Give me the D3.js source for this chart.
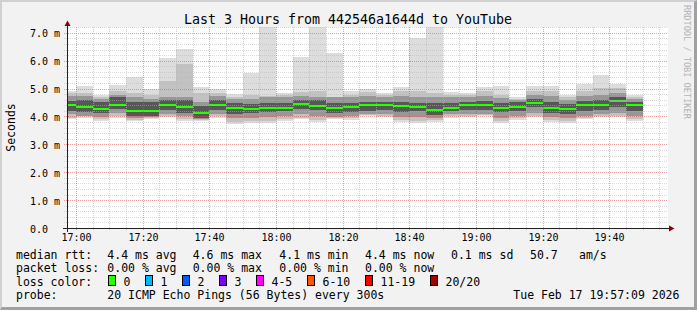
<!DOCTYPE html>
<meta charset="utf-8">
<style>

body {
  margin: 0;
  background: #f2f2f2;
}
text {
  font-family: "DejaVu Sans Mono", monospace;
  fill: #000;
}
.grid line {
  stroke-dasharray: 1,1;
  shape-rendering: crispEdges;
}
.smoke rect {
  shape-rendering: crispEdges;
}

</style>
<body>
<script src="https://cdn.jsdelivr.net/npm/d3@7/dist/d3.min.js"></script>
<script>
// end time of every 5 minute step (the first one is cut by the left edge)
var slots = ["17:00","17:05","17:10","17:15","17:20","17:25","17:30","17:35","17:40","17:45",
             "17:50","17:55","18:00","18:05","18:10","18:15","18:20","18:25","18:30","18:35",
             "18:40","18:45","18:50","18:55","19:00","19:05","19:10","19:15","19:20","19:25",
             "19:30","19:35","19:40","19:45","19:50"];

// median rtt per step, ms
var median = [4.43,4.35,4.28,4.43,4.22,4.22,4.43,4.37,4.15,4.43,4.33,4.29,4.33,4.33,4.47,4.40,4.34,4.37,
              4.43,4.43,4.40,4.37,4.26,4.33,4.43,4.43,4.33,4.37,4.51,4.33,4.27,4.43,4.43,4.58,4.43];

// sorted pings: slowest / fastest and inner pairs, ms
var pingMax = [4.92,5.11,4.78,5.14,5.43,5.02,6.11,6.43,5.06,4.99,4.82,5.58,7.60,4.87,6.15,7.50,6.29,4.92,
               5.02,4.87,5.08,6.82,7.40,4.90,4.86,5.07,5.10,4.73,5.10,5.10,4.80,5.19,5.50,5.19,4.80];
var hi2 = [4.85,4.85,4.72,4.95,4.85,4.80,5.30,5.90,4.85,4.85,4.72,4.80,4.75,4.80,4.88,4.95,4.72,4.80,
           4.90,4.78,4.95,4.94,4.85,4.80,4.80,4.95,4.80,4.65,4.95,4.95,4.72,4.95,5.05,5.05,4.72];
var hi3 = [4.75,4.75,4.65,4.80,4.70,4.65,4.70,4.70,4.55,4.75,4.65,4.65,4.70,4.72,4.75,4.70,4.70,4.70,
           4.75,4.70,4.75,4.72,4.70,4.70,4.70,4.75,4.68,4.60,4.80,4.75,4.62,4.75,4.80,4.85,4.65];
var hi4 = [4.58,4.60,4.55,4.70,4.55,4.55,4.60,4.60,4.40,4.60,4.50,4.48,4.49,4.49,4.60,4.60,4.50,4.50,
           4.55,4.55,4.55,4.50,4.50,4.50,4.55,4.58,4.50,4.55,4.65,4.55,4.45,4.58,4.60,4.70,4.55];
var lo4 = [4.22,4.18,4.15,4.30,4.05,4.05,4.25,4.13,3.98,4.25,4.12,4.13,4.19,4.20,4.28,4.25,4.13,4.17,
           4.20,4.25,4.17,4.20,4.07,4.20,4.25,4.25,4.19,4.20,4.35,4.15,4.12,4.22,4.25,4.35,4.20];
var lo3 = [4.10,4.05,4.00,4.15,3.95,4.00,4.10,4.02,3.92,4.10,3.95,3.95,4.00,4.05,4.10,4.05,4.00,4.05,
           4.10,4.10,4.00,4.00,3.98,4.10,4.12,4.12,3.98,4.05,4.15,4.00,3.98,4.05,4.10,4.15,4.02];
var lo2 = [3.97,4.02,3.92,4.03,3.90,3.95,4.04,3.92,3.88,4.02,3.82,3.85,3.86,3.92,3.98,3.90,3.96,3.96,
           4.07,4.04,3.90,3.85,3.88,4.03,4.05,4.06,3.85,3.96,4.05,3.90,3.85,3.97,4.04,4.05,3.92];
var pingMin = [3.91,3.98,3.86,3.98,3.86,3.92,4.00,3.86,3.86,3.98,3.75,3.79,3.79,3.86,3.91,3.83,3.91,3.90,
               4.05,4.00,3.83,3.77,3.83,3.98,4.00,4.02,3.77,3.90,4.00,3.83,3.79,3.91,4.00,4.00,3.86];

var yTicks = [0,1,2,3,4,5,6,7];
var yTickLabels = ["0.0","1.0 m","2.0 m","3.0 m","4.0 m","5.0 m","6.0 m","7.0 m"];
var xTickLabels = ["17:00","17:20","17:40","18:00","18:20","18:40","19:00","19:20","19:40"];

var rttStats = ["4.4 ms avg","4.6 ms max","4.1 ms min","4.4 ms now","0.1 ms sd","50.7","am/s"];
var lossStats = ["0.00 % avg","0.00 % max","0.00 % min","0.00 % now"];
var lossLabels = ["0","1","2","3","4-5","6-10","11-19","20/20"];
var lossColors = ["#26ff00","#00b8ff","#0059ff","#7e00ff","#ff00ff","#ff5500","#ff0000","#a10000"];

var width = 697,
    height = 310;

function at(hm) {
  var p = hm.split(":");
  return new Date(2026, 1, 17, +p[0], +p[1], 0);
}

var t0 = new Date(2026, 1, 17, 16, 57, 18),
    t1 = new Date(2026, 1, 17, 19, 57, 18);

var x = d3.scaleTime().domain([t0, t1]).range([67, 667]);
var y = d3.scaleLinear().domain([0, 7.21]).range([228.5, 27.5]);

var svg = d3.select("body").append("svg")
    .attr("width", width)
    .attr("height", height);

svg.append("rect").attr("width", width).attr("height", height).attr("fill", "#f2f2f2");
svg.append("path").attr("d", "M0,0H697L695,2H2V308L0,310Z").attr("fill", "#d0d0d0");
svg.append("path").attr("d", "M697,0V310H0L2,307H694V2Z").attr("fill", "#a0a0a0");

svg.append("rect")
    .attr("x", 67).attr("y", 27)
    .attr("width", 601).attr("height", 201)
    .attr("fill", "#fff");

svg.append("clipPath").attr("id", "plot")
  .append("rect").attr("x", 67).attr("y", 27).attr("width", 601).attr("height", 201);

// smoke: outer pair lightest, inner pairs darker
var layers = [
  {hi: pingMax, lo: pingMin, color: "#dddddd"},
  {hi: hi2, lo: lo2, color: "#c2c2c2"},
  {hi: hi3, lo: lo3, color: "#979797"},
  {hi: hi4, lo: lo4, color: "#575757"}
];

var smoke = svg.append("g").attr("class", "smoke").attr("clip-path", "url(#plot)");

function colLeft(i) { return Math.round(x(d3.timeMinute.offset(at(slots[i]), -5))); }
function colRight(i) { return Math.round(x(at(slots[i]))); }

layers.forEach(function(l) {
  smoke.append("g").selectAll("rect")
      .data(slots)
    .enter().append("rect")
      .attr("x", function(d, i) { return colLeft(i); })
      .attr("width", function(d, i) { return colRight(i) - colLeft(i); })
      .attr("y", function(d, i) { return y(l.hi[i]); })
      .attr("height", function(d, i) { return y(l.lo[i]) - y(l.hi[i]); })
      .attr("fill", l.color);
});

smoke.append("g").selectAll("rect")
    .data(median)
  .enter().append("rect")
    .attr("x", function(d, i) { return colLeft(i); })
    .attr("width", function(d, i) { return colRight(i) - colLeft(i); })
    .attr("y", function(d) { return Math.round(y(d)) - 1; })
    .attr("height", 2)
    .attr("fill", lossColors[0]);

// grid on top of the data, like rrdtool
var grid = svg.append("g").attr("class", "grid");
var minorY = d3.range(1, 37).map(function(k) { return k / 5; });

grid.selectAll(".hy")
    .data(minorY)
  .enter().append("line")
    .attr("x1", 64).attr("x2", 668)
    .attr("y1", function(d) { return Math.round(y(d) - 0.5) + 0.5; })
    .attr("y2", function(d) { return Math.round(y(d) - 0.5) + 0.5; })
    .attr("stroke", function(d, i) { return (i + 1) % 5 === 0 ? "rgba(222,80,80,0.55)" : "rgba(180,180,180,0.5)"; });

var vTimes = d3.timeMinute.every(5).range(at("17:00"), t1);
grid.selectAll(".vx")
    .data(vTimes)
  .enter().append("line")
    .attr("y1", 27).attr("y2", 231)
    .attr("x1", function(d) { return Math.round(x(d)) + 0.5; })
    .attr("x2", function(d) { return Math.round(x(d)) + 0.5; })
    .attr("stroke", function(d) { return d.getMinutes() % 20 === 0 ? "rgba(222,80,80,0.55)" : "rgba(180,180,180,0.6)"; });

// axes
svg.append("line").attr("x1", 63).attr("x2", 670).attr("y1", 228.5).attr("y2", 228.5)
    .attr("stroke", "#202020").attr("shape-rendering", "crispEdges");
svg.append("line").attr("x1", 67.5).attr("x2", 67.5).attr("y1", 232).attr("y2", 24)
    .attr("stroke", "#202020").attr("shape-rendering", "crispEdges");
svg.append("path").attr("d", "M64.5,26L67.5,20.5L70.5,26Z").attr("fill", "#8b0000");
svg.append("path").attr("d", "M669,225.5L674.5,228.5L669,231.5Z").attr("fill", "#8b0000");

svg.append("g").selectAll("text")
    .data(yTicks)
  .enter().append("text")
    .attr("x", 30)
    .attr("y", function(d) { return Math.round(y(d)) + 3.5; })
    .style("font-size", "10px")
    .text(function(d, i) { return yTickLabels[i]; });

svg.append("g").selectAll("text")
    .data(xTickLabels)
  .enter().append("text")
    .attr("x", function(d) { return Math.round(x(at(d))) + 0.5; })
    .attr("y", 241)
    .attr("text-anchor", "middle")
    .style("font-size", "10px")
    .text(function(d) { return d; });

svg.append("text")
    .attr("transform", "translate(14.5,127.5)rotate(-90)")
    .attr("text-anchor", "middle")
    .style("font-size", "11.5px")
    .text("Seconds");

svg.append("text")
    .attr("x", 348).attr("y", 24)
    .attr("text-anchor", "middle")
    .style("font-size", "13.3px")
    .text("Last 3 Hours from 442546a1644d to YouTube");

svg.append("text")
    .attr("transform", "translate(684,5)rotate(90)")
    .style("font-size", "8.6px")
    .style("fill", "#b4b4b4")
    .text("RRDTOOL / TOBI OETIKER");

// legend
var leg = svg.append("g").style("font-size", "11.5px");
var rowY = [258.5, 272, 285.5, 299];
var statX = [107.3, 192.7, 279.3, 365, 451, 530, 579];

leg.append("text").attr("x", 16).attr("y", rowY[0]).text("median rtt:");
leg.selectAll(".rtt").data(rttStats).enter().append("text")
    .attr("x", function(d, i) { return statX[i]; }).attr("y", rowY[0]).text(function(d) { return d; });

leg.append("text").attr("x", 16).attr("y", rowY[1]).text("packet loss:");
leg.selectAll(".loss").data(lossStats).enter().append("text")
    .attr("x", function(d, i) { return statX[i]; }).attr("y", rowY[1]).text(function(d) { return d; });

leg.append("text").attr("x", 16).attr("y", rowY[2]).text("loss color:");
var boxX = [108.5, 145.5, 182.5, 219.5, 256.5, 307.5, 365.5, 430.5];
leg.selectAll(".box").data(lossColors).enter().append("rect")
    .attr("x", function(d, i) { return boxX[i]; }).attr("y", 275.5)
    .attr("width", 7).attr("height", 10)
    .attr("fill", function(d) { return d; })
    .attr("stroke", "#000").attr("stroke-width", 1);
leg.selectAll(".lab").data(lossLabels).enter().append("text")
    .attr("x", function(d, i) { return boxX[i] + 15; }).attr("y", rowY[2]).text(function(d) { return d; });

leg.append("text").attr("x", 16).attr("y", rowY[3]).text("probe:");
leg.append("text").attr("x", 107.3).attr("y", rowY[3]).text("20 ICMP Echo Pings (56 Bytes) every 300s");
leg.append("text").attr("x", 513.3).attr("y", rowY[3]).text("Tue Feb 17 19:57:09 2026");

</script>
